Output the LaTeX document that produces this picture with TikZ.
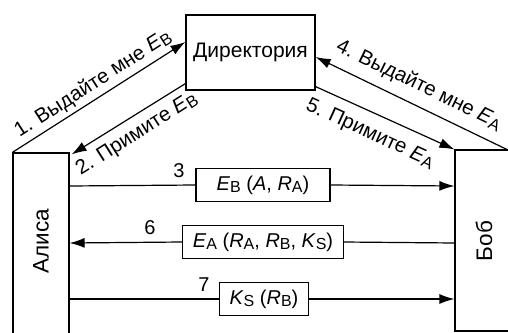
\documentclass[tikz,border=0pt]{standalone}
\usepackage{fontspec}
\usepackage{graphicx}
\setmainfont{Liberation Sans}
\usetikzlibrary{arrows.meta,calc}
\newcommand{\sbx}[1]{\raisebox{-0.25ex}{\scalebox{0.8}{#1}}}
\begin{document}
\begin{tikzpicture}[x=1pt,y=-1pt,
  box/.style={draw, line width=1.2pt, inner sep=0pt, rectangle},
  msg/.style={draw, line width=1.2pt, inner xsep=10pt, inner ysep=4pt, minimum height=33pt, fill=white, font=\fontsize{20}{23}\selectfont},
  conn/.style={line width=1.2pt, -{Latex[length=15pt,width=10pt]}},
  plain/.style={line width=1.2pt},
  lbl/.style={font=\fontsize{20.5}{23}\selectfont, inner sep=1pt},
  big/.style={font=\fontsize{22.5}{25}\selectfont, inner sep=1pt},
  num/.style={font=\fontsize{20}{23}\selectfont, inner sep=1pt},
]
\useasboundingbox (0,0) rectangle (508,332);
% boxes
\node[box, minimum width=129pt, minimum height=75pt, font=\fontsize{21}{24}\selectfont] (dir) at (250.5,52.5) {Директория};
\node[box, minimum width=56pt, minimum height=200pt] (alice) at (41,253) {};
\node[box, minimum width=70pt, minimum height=181pt] (bob) at (490,240.5) {};
\node[big, rotate=90] (alicel) at (41,241) {Алиса};
\node[big, rotate=90] (bobl) at (484,241) {Боб};
\coordinate (bobtr) at (508,150);
% diagonal connectors
\draw[conn] (alice.north west) -- ([yshift=10.5pt]dir.west);
\draw[conn] ([yshift=7pt]dir.south west) -- ([xshift=2pt,yshift=-2pt]alice.north east);
\draw[conn] (bobtr) -- ([yshift=-4.5pt]dir.east);
\draw[conn] ([yshift=4pt]dir.south east) -- (bob.north west);
% diagonal labels
\node[lbl, rotate=32.8] (l1) at (93,84) {1. Выдайте мне \textit{E}\sbx{B}};
\node[lbl, rotate=32.3] (l2) at (137,134) {2. Примите \textit{E}\sbx{B}};
\node[lbl, rotate=-26] (l4) at (419,85) {4. Выдайте мне \textit{E}\sbx{A}};
\node[lbl, rotate=-24.6] (l5) at (370,134) {5. Примите \textit{E}\sbx{A}};
% horizontal messages
\coordinate (a3) at (alice.east |- 0,186);
\coordinate (b3) at (bob.west |- 0,186);
\coordinate (a6) at (alice.east |- 0,243);
\coordinate (b6) at (bob.west |- 0,243);
\coordinate (a7) at (alice.east |- 0,299);
\coordinate (b7) at (bob.west |- 0,299);
\node[msg, minimum width=134pt] (m3) at (263,185) {\textit{E}\sbx{B} (\textit{A}, \textit{R}\sbx{A})};
\node[msg] (m6) at (263,242) {\textit{E}\sbx{A} (\textit{R}\sbx{A}, \textit{R}\sbx{B}, \textit{K}\sbx{S})};
\node[msg] (m7) at (264,299) {\textit{K}\sbx{S} (\textit{R}\sbx{B})};
\draw[plain] (a3) -- (m3.west);
\draw[conn] (m3.east) -- (b3);
\draw[plain] (b6) -- (m6.east);
\draw[conn] (m6.west) -- (a6);
\draw[plain] (a7) -- (m7.west);
\draw[conn] (m7.east) -- (b7);
\node[num] (n3) at (179,171) {3};
\node[num] (n6) at (150,228) {6};
\node[num] (n7) at (204,285) {7};
\end{tikzpicture}
\end{document}
